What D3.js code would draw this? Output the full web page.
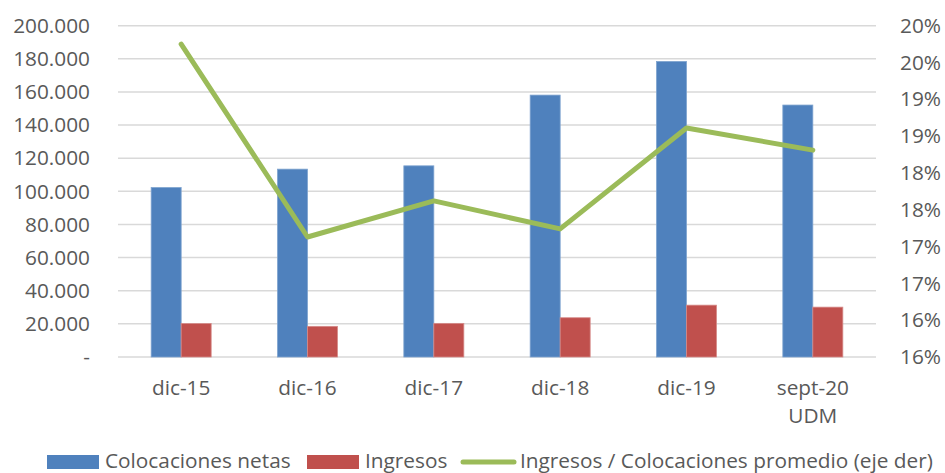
<!DOCTYPE html>
<html><head><meta charset="utf-8">
<script src="https://cdn.jsdelivr.net/npm/d3@7"></script>
<style>
body{margin:0;background:#fff;}
text{font-family:"Open Sans",sans-serif;fill:#595959;}
</style></head>
<body><svg id="c" width="945" height="473"></svg>
<script>
const categories = ["dic-15","dic-16","dic-17","dic-18","dic-19","sept-20\nUDM"];
const colocaciones = [102300,113400,115400,158100,178400,152100];
const ingresos = [20200,18500,20300,23700,31300,30100];
const ratio = [19.75,17.13,17.62,17.24,18.61,18.31];
const leftTicks = [0,20000,40000,60000,80000,100000,120000,140000,160000,180000,200000];
const leftLabels = ["-","20.000","40.000","60.000","80.000","100.000","120.000","140.000","160.000","180.000","200.000"];
const rightTicks = [15.5,16,16.5,17,17.5,18,18.5,19,19.5,20];
const rightLabels = ["16%","16%","17%","17%","18%","18%","19%","19%","20%","20%"];
const seriesNames = ["Colocaciones netas","Ingresos","Ingresos / Colocaciones promedio (eje der)"];
const colors = {blue:"#4f81bd", red:"#c0504d", green:"#9bbb59"};

const svg = d3.select("#c");
const L=118, R=876, T=25.7, B=357;
const fs = 20.8;

const x = d3.scaleBand().domain(categories).range([L,R]);
const yL = d3.scaleLinear().domain([0,200000]).range([B,T]);
const yR = d3.scaleLinear().domain([15.5,20]).range([B,T]);
const barW = 30;

// gridlines
svg.append("g").selectAll("line").data(leftTicks).join("line")
  .attr("x1",L).attr("x2",R).attr("y1",d=>yL(d)).attr("y2",d=>yL(d))
  .attr("stroke","#d9d9d9").attr("stroke-width",1.5);

// left axis labels
const axL = d3.axisLeft(yL).tickValues(leftTicks).tickFormat((d,i)=>leftLabels[i]).tickSize(0).tickPadding(28);
const gL = svg.append("g").attr("transform",`translate(${L},0)`).call(axL);
gL.select(".domain").remove();
gL.selectAll("text").style("font-size",fs+"px").attr("fill","#595959").style("font-family","'Open Sans',sans-serif");

const axR = d3.axisRight(yR).tickValues(rightTicks).tickFormat((d,i)=>rightLabels[i]).tickSize(0).tickPadding(24);
const gR = svg.append("g").attr("transform",`translate(${R},0)`).call(axR);
gR.select(".domain").remove();
gR.selectAll("text").style("font-size",fs+"px").attr("fill","#595959").style("font-family","'Open Sans',sans-serif");

// bars
const cx = c => x(c)+x.bandwidth()/2;
svg.append("g").selectAll("rect").data(categories).join("rect")
  .attr("x",c=>cx(c)-barW).attr("width",barW)
  .attr("y",(c,i)=>yL(colocaciones[i])).attr("height",(c,i)=>B-yL(colocaciones[i]))
  .attr("fill",colors.blue).attr("stroke","#7ea3cf").attr("stroke-width",0.8);
svg.append("g").selectAll("rect").data(categories).join("rect")
  .attr("x",c=>cx(c)).attr("width",barW)
  .attr("y",(c,i)=>yL(ingresos[i])).attr("height",(c,i)=>B-yL(ingresos[i]))
  .attr("fill",colors.red).attr("stroke","#d58a88").attr("stroke-width",0.8);

// line
const line = d3.line().x((d,i)=>cx(categories[i])).y(d=>yR(d));
svg.append("path").datum(ratio).attr("d",line).attr("fill","none")
  .attr("stroke",colors.green).attr("stroke-width",5).attr("stroke-linecap","round").attr("stroke-linejoin","round");

// x labels
const gx = svg.append("g");
categories.forEach(c=>{
  const t = gx.append("text").attr("x",cx(c)).attr("y",395).attr("text-anchor","middle").style("font-size",fs+"px");
  c.split("\n").forEach((s,k)=>t.append("tspan").attr("x",cx(c)).attr("dy",k?28:0).text(s));
});

// legend
const lg = svg.append("g");
lg.append("rect").attr("x",47).attr("y",455).attr("width",52).attr("height",14).attr("fill",colors.blue);
lg.append("text").attr("x",105).attr("y",468).style("font-size",fs+"px").text(seriesNames[0]);
lg.append("rect").attr("x",307).attr("y",455).attr("width",52).attr("height",14).attr("fill",colors.red);
lg.append("text").attr("x",365).attr("y",468).style("font-size",fs+"px").text(seriesNames[1]);
lg.append("line").attr("x1",463).attr("x2",514).attr("y1",462).attr("y2",462).attr("stroke",colors.green).attr("stroke-width",5).attr("stroke-linecap","round");
lg.append("text").attr("x",520).attr("y",468).style("font-size",fs+"px").text(seriesNames[2]);
</script></body></html>
